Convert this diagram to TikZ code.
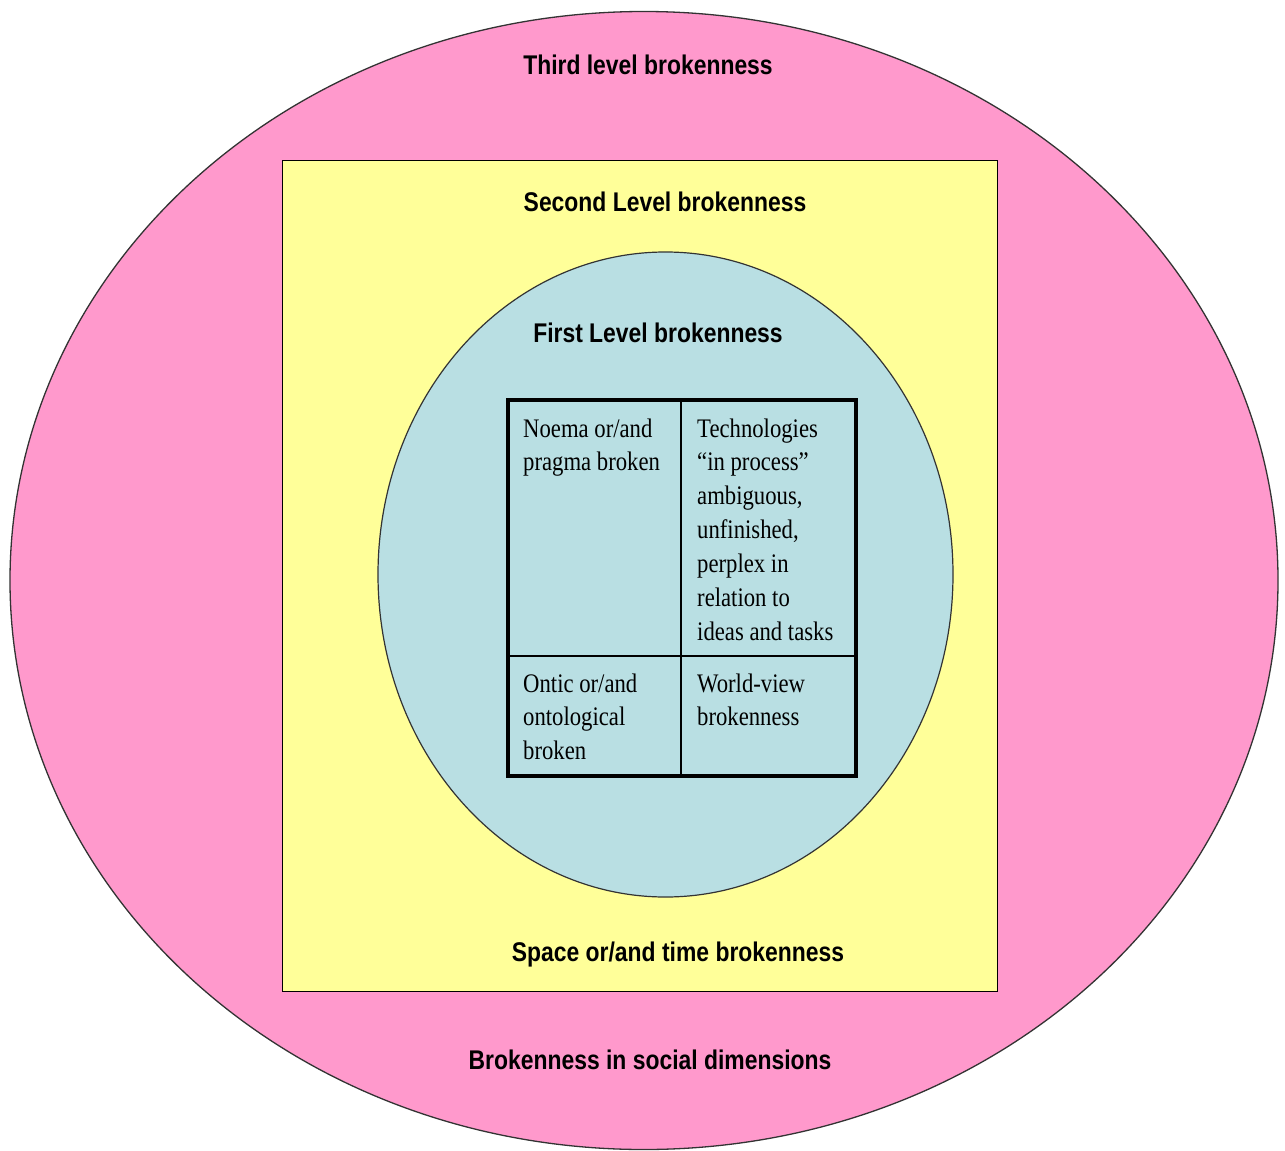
\documentclass[tikz,border=0pt]{standalone}
\usepackage{fontspec}
\setmainfont{Liberation Serif}
\newfontfamily\labelfont{Liberation Sans}
\definecolor{pinkfill}{HTML}{FF99CC}
\definecolor{yellowfill}{HTML}{FFFF99}
\definecolor{bluefill}{HTML}{B9DFE3}
\definecolor{edgegray}{HTML}{333333}
\newcommand{\lvl}[1]{\scalebox{1}[1.18]{\labelfont\bfseries\fontsize{22.9}{27}\selectfont #1}}
\newcommand{\cell}[1]{\scalebox{1}[1.18]{\fontsize{22.7}{28.8}\selectfont\begin{tabular}[t]{@{}l@{}}#1\end{tabular}}}
\begin{document}
\begin{tikzpicture}[x=1pt,y=-1pt,
  lvllabel/.style={inner sep=0pt, anchor=base},
  celltext/.style={inner sep=0pt, anchor=base west}]
\useasboundingbox (0,0) rectangle (1285,1151);
% third level
\draw[edgegray, line width=1.3pt, fill=pinkfill] (644,580.5) ellipse [x radius=634, y radius=569];
% second level
\draw[black, line width=1pt, fill=yellowfill] (282,160) rectangle (997,991);
% first level
\draw[edgegray, line width=1.2pt, fill=bluefill] (665.5,574.5) ellipse [x radius=287.5, y radius=322.5];
% table
\draw[black, line width=1.3pt] (681,400) -- (681,776);
\draw[black, line width=1.3pt] (508,656) -- (856,656);
\draw[black, line width=3.5pt] (508,400) rectangle (856,776);
% labels
\node[lvllabel] (third) at (648,74) {\lvl{Third level brokenness}};
\node[lvllabel] (second) at (665,211) {\lvl{Second Level brokenness}};
\node[lvllabel] (first) at (658,342) {\lvl{First Level brokenness}};
\node[lvllabel] (spacetime) at (678,961) {\lvl{Space or/and time brokenness}};
\node[lvllabel] (social) at (650,1069) {\lvl{Brokenness in social dimensions}};
% cells
\node[celltext] (noema) at (523,437) {\cell{Noema or/and\\pragma broken}};
\node[celltext] (tech) at (697,437) {\cell{Technologies\\``in process''\\ambiguous,\\unfinished,\\perplex in\\relation to\\ideas and tasks}};
\node[celltext] (ontic) at (523,692) {\cell{Ontic or/and\\ontological\\broken}};
\node[celltext] (world) at (697,692) {\cell{World-view\\brokenness}};
\end{tikzpicture}
\end{document}
